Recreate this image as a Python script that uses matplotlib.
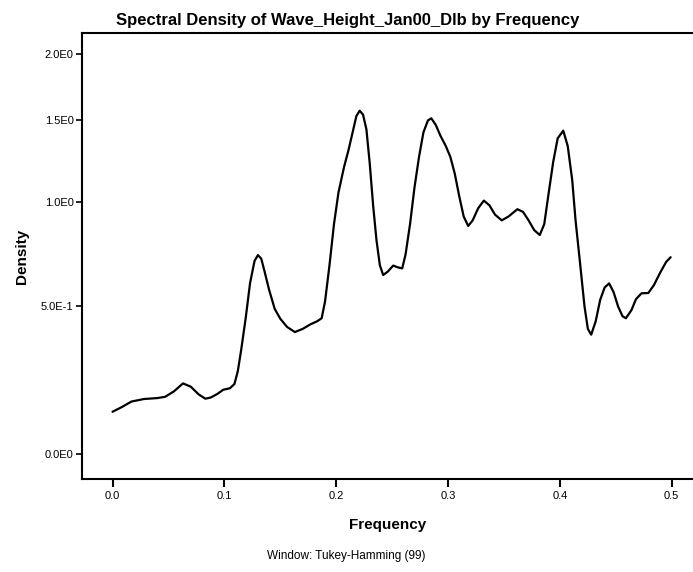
import matplotlib
matplotlib.use("Agg")
import matplotlib.pyplot as plt
import numpy as np

plt.rcParams["font.family"] = ["Liberation Sans", "DejaVu Sans"]

# spectral density estimate, Tukey-Hamming window
frequency = [0.000, 0.008, 0.017, 0.028, 0.040, 0.047, 0.055, 0.063, 0.070, 0.077,
             0.083, 0.088, 0.094, 0.099, 0.105, 0.109, 0.112, 0.115, 0.119, 0.123,
             0.127, 0.130, 0.133, 0.136, 0.140, 0.145, 0.150, 0.156, 0.163, 0.170,
             0.177, 0.183, 0.187, 0.190, 0.194, 0.198, 0.202, 0.207, 0.211, 0.215,
             0.218, 0.221, 0.224, 0.227, 0.230, 0.233, 0.236, 0.239, 0.242, 0.246,
             0.251, 0.255, 0.259, 0.262, 0.266, 0.270, 0.274, 0.278, 0.282, 0.285,
             0.289, 0.293, 0.298, 0.302, 0.306, 0.310, 0.314, 0.318, 0.322, 0.327,
             0.332, 0.337, 0.342, 0.348, 0.354, 0.362, 0.367, 0.372, 0.377, 0.382,
             0.386, 0.390, 0.394, 0.398, 0.403, 0.407, 0.411, 0.414, 0.418, 0.422,
             0.425, 0.428, 0.432, 0.436, 0.440, 0.444, 0.448, 0.452, 0.456, 0.459,
             0.464, 0.468, 0.473, 0.479, 0.484, 0.490, 0.495, 0.499]
density = [0.123, 0.137, 0.155, 0.163, 0.166, 0.170, 0.188, 0.214, 0.203, 0.178,
           0.164, 0.168, 0.180, 0.193, 0.198, 0.212, 0.255, 0.330, 0.450, 0.600,
           0.700, 0.727, 0.710, 0.650, 0.570, 0.490, 0.450, 0.418, 0.398, 0.410,
           0.428, 0.440, 0.452, 0.520, 0.680, 0.880, 1.050, 1.200, 1.305, 1.430,
           1.530, 1.568, 1.540, 1.440, 1.220, 0.980, 0.800, 0.680, 0.635, 0.650,
           0.678, 0.670, 0.665, 0.730, 0.880, 1.080, 1.260, 1.420, 1.500, 1.515,
           1.470, 1.400, 1.330, 1.263, 1.160, 1.030, 0.920, 0.871, 0.900, 0.965,
           1.006, 0.980, 0.930, 0.900, 0.920, 0.959, 0.945, 0.900, 0.850, 0.825,
           0.880, 1.050, 1.230, 1.380, 1.431, 1.330, 1.123, 0.900, 0.690, 0.500,
           0.410, 0.388, 0.440, 0.527, 0.580, 0.598, 0.560, 0.500, 0.460, 0.452,
           0.485, 0.530, 0.555, 0.556, 0.590, 0.649, 0.695, 0.717]

y_ticks = [0.0, 0.5, 1.0, 1.5, 2.0]
y_tick_labels = ["0.0E0", "5.0E-1", "1.0E0", "1.5E0", "2.0E0"]
x_ticks = [0.0, 0.1, 0.2, 0.3, 0.4, 0.5]

fig = plt.figure(figsize=(6.93, 5.72), dpi=100)
ax = fig.add_axes([0.1183, 0.1626, 0.8817, 0.7797])

ax.plot(frequency, density, color="black", lw=1.6,
        solid_joinstyle="round", solid_capstyle="round")

# density axis is drawn on a log(1 + y) scale
ax.set_yscale("function", functions=(np.log1p, np.expm1))
ax.set_ylim(-0.0664, 2.179)
ax.set_xlim(-0.0273, 0.519)

ax.set_yticks(y_ticks)
ax.set_yticklabels(y_tick_labels)
ax.set_xticks(x_ticks)
ax.set_xticklabels([f"{t:.1f}" for t in x_ticks])
ax.yaxis.set_minor_locator(matplotlib.ticker.NullLocator())

ax.tick_params(axis="y", length=4.5, width=1.2, labelsize=8, pad=1.5, direction="out")
ax.tick_params(axis="x", length=6, width=1.5, labelsize=8, pad=3, direction="out")

for side in ("left", "bottom", "top"):
    ax.spines[side].set_linewidth(1.5)
ax.spines["right"].set_visible(False)

ax.set_title("Spectral Density of Wave_Height_Jan00_Dlb by Frequency",
             fontsize=12, fontweight="bold", pad=6, x=0.435)
ax.set_ylabel("Density", fontsize=11, fontweight="bold", labelpad=9)
ax.set_xlabel("Frequency", fontsize=11, fontweight="bold", labelpad=12)
fig.text(0.5, 1 - 556 / 572, "Window: Tukey-Hamming (99)", fontsize=8.5,
         ha="center", va="center")

fig.savefig("out.png", dpi=100)
